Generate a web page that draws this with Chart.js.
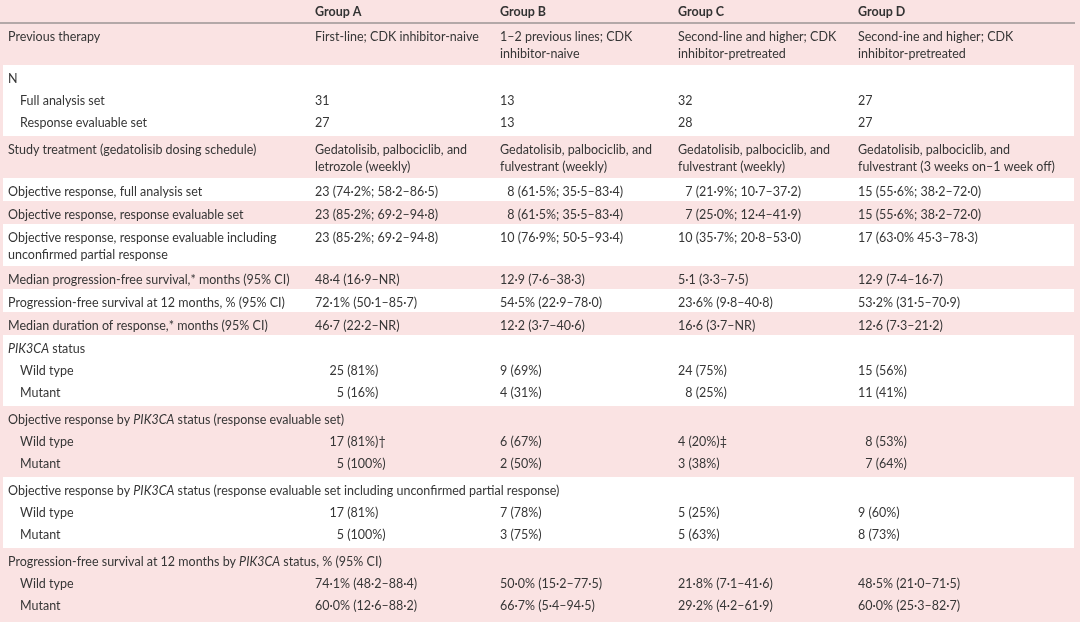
<!DOCTYPE html>
<html>
<head>
<meta charset="utf-8">
<script src="https://cdn.jsdelivr.net/npm/chart.js@4.4.1/dist/chart.umd.min.js"></script>
<style>
    html, body { margin: 0; padding: 0; background: #fae3e3; }
    #wrap { width: 1080px; height: 622px; }
</style>
</head>
<body>
<div id="wrap"><canvas id="tableChart"></canvas></div>
<script>
// Table content (one entry per table row, _text_ = italic)
const groups = ['Group A', 'Group B', 'Group C', 'Group D'];

const rowLabels = [
    'Previous therapy',
    'N',
    'Full analysis set',
    'Response evaluable set',
    'Study treatment (gedatolisib dosing schedule)',
    'Objective response, full analysis set',
    'Objective response, response evaluable set',
    'Objective response, response evaluable including\nunconfirmed partial response',
    'Median progression-free survival,* months (95% CI)',
    'Progression-free survival at 12 months, % (95% CI)',
    'Median duration of response,* months (95% CI)',
    '_PIK3CA_ status',
    'Wild type',
    'Mutant',
    'Objective response by _PIK3CA_ status (response evaluable set)',
    'Wild type',
    'Mutant',
    'Objective response by _PIK3CA_ status (response evaluable set including unconfirmed partial response)',
    'Wild type',
    'Mutant',
    'Progression-free survival at 12 months by _PIK3CA_ status, % (95% CI)',
    'Wild type',
    'Mutant'
];

// 0 = main row, 1 = indented sub-row
const rowLevel = [0, 0, 1, 1, 0, 0, 0, 0, 0, 0, 0, 0, 1, 1, 0, 1, 1, 0, 1, 1, 0, 1, 1];

const groupA = [
    'First-line; CDK inhibitor-naive',
    '',
    '31',
    '27',
    'Gedatolisib, palbociclib, and\nletrozole (weekly)',
    '23 (74·2%; 58·2–86·5)',
    '23 (85·2%; 69·2–94·8)',
    '23 (85·2%; 69·2–94·8)',
    '48·4 (16·9–NR)',
    '72·1% (50·1–85·7)',
    '46·7 (22·2–NR)',
    '',
    '\u2007\u200725 (81%)',
    '\u2007\u2007\u20075 (16%)',
    '',
    '\u2007\u200717 (81%)†',
    '\u2007\u2007\u20075 (100%)',
    '',
    '\u2007\u200717 (81%)',
    '\u2007\u2007\u20075 (100%)',
    '',
    '74·1% (48·2–88·4)',
    '60·0% (12·6–88·2)'
];

const groupB = [
    '1–2 previous lines; CDK\ninhibitor-naive',
    '',
    '13',
    '13',
    'Gedatolisib, palbociclib, and\nfulvestrant (weekly)',
    '\u20078 (61·5%; 35·5–83·4)',
    '\u20078 (61·5%; 35·5–83·4)',
    '10 (76·9%; 50·5–93·4)',
    '12·9 (7·6–38·3)',
    '54·5% (22·9–78·0)',
    '12·2 (3·7–40·6)',
    '',
    '9 (69%)',
    '4 (31%)',
    '',
    '6 (67%)',
    '2 (50%)',
    '',
    '7 (78%)',
    '3 (75%)',
    '',
    '50·0% (15·2–77·5)',
    '66·7% (5·4–94·5)'
];

const groupC = [
    'Second-line and higher; CDK\ninhibitor-pretreated',
    '',
    '32',
    '28',
    'Gedatolisib, palbociclib, and\nfulvestrant (weekly)',
    '\u20077 (21·9%; 10·7–37·2)',
    '\u20077 (25·0%; 12·4–41·9)',
    '10 (35·7%; 20·8–53·0)',
    '5·1 (3·3–7·5)',
    '23·6% (9·8–40·8)',
    '16·6 (3·7–NR)',
    '',
    '24 (75%)',
    '\u20078 (25%)',
    '',
    '4 (20%)‡',
    '3 (38%)',
    '',
    '5 (25%)',
    '5 (63%)',
    '',
    '21·8% (7·1–41·6)',
    '29·2% (4·2–61·9)'
];

const groupD = [
    'Second-ine and higher; CDK\ninhibitor-pretreated',
    '',
    '27',
    '27',
    'Gedatolisib, palbociclib, and\nfulvestrant (3 weeks on–1 week off)',
    '15 (55·6%; 38·2–72·0)',
    '15 (55·6%; 38·2–72·0)',
    '17 (63·0% 45·3–78·3)',
    '12·9 (7·4–16·7)',
    '53·2% (31·5–70·9)',
    '12·6 (7·3–21·2)',
    '',
    '15 (56%)',
    '11 (41%)',
    '',
    '\u20078 (53%)',
    '\u20077 (64%)',
    '',
    '9 (60%)',
    '8 (73%)',
    '',
    '48·5% (21·0–71·5)',
    '60·0% (25·3–82·7)'
];

// Layout (page units = px of the 1080x622 picture)
const PAGE_W = 1080;
const PAGE_H = 622;
const colX = [8, 315, 500, 678, 858];
const SUB_INDENT = 12;
const HEADER_H = 23;
const HEADER_TEXT_Y = 12;
const ROW_H = 23;
const WRAP_H = 19;
const SUB_H = 24;
const FIRST_LINE = 14;
const WRAP_STEP = 17;
const SUB_STEP = 22;
const BAND_LEFT = 3;
const BAND_RIGHT = 1074;

const TEXT_COLOR = '#363636';
const BODY_FONT = '12.5px Lato';
const HEAD_FONT = 'bold 12.5px Lato';

function buildLayout() {
    const bands = [];
    const lineY = [];
    let band = null;
    let cursor = HEADER_H;
    let lastY = 0;

    rowLabels.forEach((label, r) => {
        const cells = [label, groupA[r], groupB[r], groupC[r], groupD[r]];
        const nLines = Math.max(...cells.map(c => c.split('\n').length));
        if (rowLevel[r] === 0) {
            band = { top: cursor, bottom: cursor + ROW_H + WRAP_H * (nLines - 1), white: bands.length % 2 === 1 };
            bands.push(band);
            lastY = cursor + FIRST_LINE;
        } else {
            lastY += SUB_STEP;
            band.bottom += SUB_H;
        }
        const ys = [];
        for (let k = 0; k < nLines; k++) ys.push(lastY + k * WRAP_STEP);
        lastY = ys[ys.length - 1];
        lineY.push(ys);
        cursor = band.bottom;
    });
    bands[bands.length - 1].bottom = PAGE_H;
    return { bands, lineY };
}

const layout = buildLayout();

function columnPoints(values, c) {
    const points = [];
    values.forEach((cell, r) => {
        if (!cell) return;
        const indent = (c === 0 && rowLevel[r] === 1) ? SUB_INDENT : 0;
        cell.split('\n').forEach((line, k) => {
            points.push({ x: colX[c] + indent, y: layout.lineY[r][k], text: line });
        });
    });
    return points;
}

function textDataset(label, points, font) {
    return {
        label: label,
        data: points,
        font: font,
        pointRadius: 0,
        pointHitRadius: 0,
        showLine: false
    };
}

// draws a line of text, switching to italic between underscores
function drawRich(ctx, str, x, y, font) {
    let cx = x;
    str.split('_').forEach((part, i) => {
        ctx.font = (i % 2 ? 'italic ' : '') + font;
        ctx.fillText(part, cx, y);
        cx += ctx.measureText(part).width;
    });
}

const tablePlugin = {
    id: 'tableCells',
    beforeDatasetsDraw(chart) {
        const { ctx, scales: { x, y } } = chart;
        ctx.save();
        // row bands
        layout.bands.forEach(b => {
            if (!b.white) return;
            ctx.fillStyle = '#ffffff';
            const x0 = x.getPixelForValue(BAND_LEFT);
            const y0 = y.getPixelForValue(b.top);
            ctx.fillRect(x0, y0, x.getPixelForValue(BAND_RIGHT) - x0, y.getPixelForValue(b.bottom) - y0);
        });
        // header rule
        ctx.strokeStyle = '#9b9595';
        ctx.lineWidth = 1.5;
        ctx.beginPath();
        ctx.moveTo(x.getPixelForValue(0), y.getPixelForValue(HEADER_H));
        ctx.lineTo(x.getPixelForValue(1075), y.getPixelForValue(HEADER_H));
        ctx.stroke();
        ctx.restore();
    },
    afterDatasetsDraw(chart) {
        const ctx = chart.ctx;
        ctx.save();
        ctx.textBaseline = 'middle';
        ctx.textAlign = 'left';
        chart.data.datasets.forEach((ds, i) => {
            ctx.fillStyle = ds.font === HEAD_FONT ? '#333333' : TEXT_COLOR;
            chart.getDatasetMeta(i).data.forEach((pt, j) => {
                drawRich(ctx, ds.data[j].text, pt.x, pt.y, ds.font);
            });
        });
        ctx.restore();
    }
};

function initTable() {
    const headerPoints = groups.map((g, i) => ({ x: colX[i + 1], y: HEADER_TEXT_Y, text: g }));
    const ctx = document.getElementById('tableChart').getContext('2d');
    new Chart(ctx, {
        type: 'scatter',
        data: {
            datasets: [
                textDataset('header', headerPoints, HEAD_FONT),
                textDataset('label', columnPoints(rowLabels, 0), BODY_FONT),
                textDataset('Group A', columnPoints(groupA, 1), BODY_FONT),
                textDataset('Group B', columnPoints(groupB, 2), BODY_FONT),
                textDataset('Group C', columnPoints(groupC, 3), BODY_FONT),
                textDataset('Group D', columnPoints(groupD, 4), BODY_FONT)
            ]
        },
        options: {
            responsive: true,
            maintainAspectRatio: false,
            animation: false,
            layout: { padding: 0 },
            plugins: {
                legend: { display: false },
                tooltip: { enabled: false }
            },
            scales: {
                x: { type: 'linear', min: 0, max: PAGE_W, display: false },
                y: { type: 'linear', min: 0, max: PAGE_H, reverse: true, display: false }
            }
        },
        plugins: [tablePlugin]
    });
}

initTable();
</script>
</body>
</html>
